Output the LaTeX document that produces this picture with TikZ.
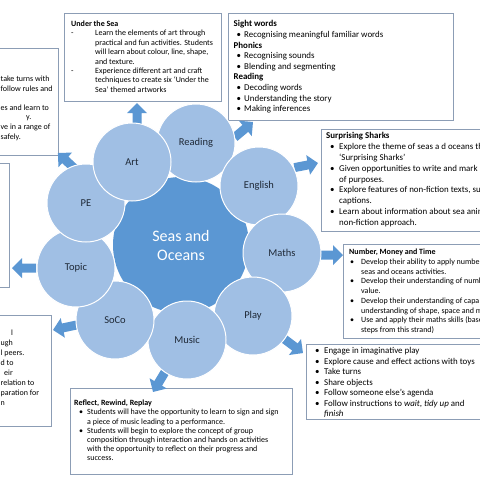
\documentclass[tikz,border=0pt]{standalone}
\usepackage{fontspec}
\setmainfont{Carlito}
\definecolor{ringfill}{HTML}{A0BFE4}
\definecolor{hubfill}{HTML}{5B97D3}
\definecolor{arrowfill}{HTML}{5B97D3}
\definecolor{boxline}{HTML}{8C9DB5}
\definecolor{ringtext}{HTML}{1F2937}
\newcommand\bul[2]{\makebox[#2][l]{\hspace*{#1}•}}
\newcommand\lines[1]{\begin{tabular}{@{}l@{}}#1\end{tabular}}
\tikzset{
  infobox/.style={draw=boxline, line width=0.8pt, fill=white, anchor=north west, inner sep=0pt, outer sep=0pt},
  boxtext/.style={anchor=north west, inner sep=0pt, text=black},
  fragtext/.style={anchor=base west, inner sep=0pt, text=black},
  ring/.style={circle, fill=ringfill, draw=white, line width=1pt, minimum size=78pt, inner sep=0pt, text=ringtext, font=\fontsize{10.5}{12}\selectfont},
  hub/.style={circle, fill=hubfill, minimum size=136pt, inner sep=0pt, text=white, align=center, font=\fontsize{16}{19}\selectfont},
  blockarrow/.pic={\fill[arrowfill] (0,-4.5) -- (14,-4.5) -- (14,-10) -- (24,0) -- (14,10) -- (14,4.5) -- (0,4.5) -- cycle;}
}
\begin{document}
\begin{tikzpicture}[x=1pt,y=1pt]
\useasboundingbox (0,0) rectangle (480,-480);
\clip (0,0) rectangle (480,-480);
\fill[white] (0,0) rectangle (480,-480);

% boxes
\node[infobox, minimum width=63.5pt, minimum height=107pt] (boxPE) at (-5,-48) {};
\node[infobox, minimum width=14pt, minimum height=124pt] (boxTopic) at (-5,-163) {};
\node[infobox, minimum width=56pt, minimum height=111pt] (boxSoCo) at (-5,-315) {};
\node[infobox, minimum width=157pt, minimum height=88pt] (boxArt) at (64,-13) {};
\node[infobox, minimum width=225pt, minimum height=107pt] (boxReading) at (228,-13) {};
\node[infobox, minimum width=170pt, minimum height=102pt] (boxEnglish) at (321,-129) {};
\node[infobox, minimum width=150pt, minimum height=94pt] (boxMaths) at (343,-244) {};
\node[infobox, minimum width=185pt, minimum height=75pt] (boxPlay) at (306,-344) {};
\node[infobox, minimum width=222pt, minimum height=86pt] (boxMusic) at (70,-388) {};

% box texts
\node[boxtext, font=\fontsize{8}{9.6}\selectfont] (tPE) at (0.5,-74.7) {\lines{take turns with\\follow rules and\\\mbox{}\\es and learn to\\\mbox{}\\ve in a range of\\safely.}};
\node[fragtext, font=\fontsize{8}{9.6}\selectfont] (tPEy) at (26,-119.8) {y.};
\node[boxtext, font=\fontsize{8}{10}\selectfont] (tSoCo) at (0.5,-328.4) {\lines{\mbox{}\\ugh\\l peers.\\d to\\\mbox{}\\relation to\\paration for\\n}};
\node[fragtext, font=\fontsize{8}{10}\selectfont] (tSoCoA) at (11,-335.4) {l};
\node[fragtext, font=\fontsize{8}{10}\selectfont] (tSoCoB) at (4,-375.4) {eir};

\node[boxtext, font=\fontsize{8}{9.4}\selectfont] (tArt) at (71,-19.8) {\lines{\textbf{Under the Sea}\\
\makebox[24pt][l]{-}Learn the elements of art through\\
\hspace*{24pt}practical and fun activities. Students\\
\hspace*{24pt}will learn about colour, line, shape,\\
\hspace*{24pt}and texture.\\
\makebox[24pt][l]{-}Experience different art and craft\\
\hspace*{24pt}techniques to create six ‘Under the\\
\hspace*{24pt}Sea’ themed artworks}};
\node[boxtext, font=\fontsize{8.9}{10.6}\selectfont] (tReading) at (233.5,-19.3) {\lines{\textbf{Sight words}\\
\bul{3pt}{10.5pt}Recognising meaningful familiar words\\
\textbf{Phonics}\\
\bul{3pt}{10.5pt}Recognising sounds\\
\bul{3pt}{10.5pt}Blending and segmenting\\
\textbf{Reading}\\
\bul{3pt}{10.5pt}Decoding words\\
\bul{3pt}{10.5pt}Understanding the story\\
\bul{3pt}{10.5pt}Making inferences}};
\node[boxtext, font=\fontsize{8.9}{10.8}\selectfont] (tEnglish) at (326,-131.1) {\lines{\textbf{Surprising Sharks}\\
\bul{4pt}{13pt}Explore the theme of seas a d oceans th\\
\hspace*{13pt}‘Surprising Sharks’\\
\bul{4pt}{13pt}Given opportunities to write and mark m\\
\hspace*{13pt}of purposes.\\
\bul{4pt}{13pt}Explore features of non-fiction texts, su\\
\hspace*{13pt}captions.\\
\bul{4pt}{13pt}Learn about information about sea anim\\
\hspace*{13pt}non-fiction approach.}};
\node[boxtext, font=\fontsize{8}{9.75}\selectfont] (tMaths) at (349,-247.6) {\lines{\textbf{Number, Money and Time}\\
\bul{1pt}{12pt}Develop their ability to apply numbe\\
\hspace*{12pt}seas and oceans activities.\\
\bul{1pt}{12pt}Develop their understanding of numb\\
\hspace*{12pt}value.\\
\bul{1pt}{12pt}Develop their understanding of capa\\
\hspace*{12pt}understanding of shape, space and m\\
\bul{1pt}{12pt}Use and apply their maths skills (base\\
\hspace*{12pt}steps from this strand)}};
\node[boxtext, font=\fontsize{8.9}{10.5}\selectfont] (tPlay) at (315,-346.3) {\lines{\bul{0pt}{9pt}Engage in imaginative play\\
\bul{0pt}{9pt}Explore cause and effect actions with toys\\
\bul{0pt}{9pt}Take turns\\
\bul{0pt}{9pt}Share objects\\
\bul{0pt}{9pt}Follow someone else’s agenda\\
\bul{0pt}{9pt}Follow instructions to \textit{wait}, \textit{tidy up} and\\
\hspace*{9pt}\textit{finish}}};
\node[boxtext, font=\fontsize{8}{9.2}\selectfont] (tMusic) at (74,-399) {\lines{\textbf{Reflect, Rewind, Replay}\\
\bul{5pt}{13pt}Students will have the opportunity to learn to sign and sign\\
\hspace*{13pt}a piece of music leading to a performance.\\
\bul{5pt}{13pt}Students will begin to explore the concept of group\\
\hspace*{13pt}composition through interaction and hands on activities\\
\hspace*{13pt}with the opportunity to reflect on their progress and\\
\hspace*{13pt}success.}};

% block arrows
\pic[rotate=90] at (137,-127) {blockarrow};
\pic[rotate=40] at (234.6,-137.4) {blockarrow};
\pic[rotate=11] at (294.4,-167.6) {blockarrow};
\pic[rotate=0] at (319,-255) {blockarrow};
\pic[rotate=-37] at (283.8,-338.6) {blockarrow};
\pic[rotate=239] at (165.4,-371.4) {blockarrow};
\pic[rotate=192] at (76.5,-325) {blockarrow};
\pic[rotate=180] at (36,-268) {blockarrow};
\pic[rotate=137] at (75.5,-169.4) {blockarrow};

% hub
\node[hub] (hub) at (181,-245) {Seas and\\Oceans};

% ring circles
\node[ring] (cReading) at (196,-143) {Reading};
\node[ring] (cEnglish) at (259,-186) {English};
\node[ring] (cMaths) at (282,-253) {Maths};
\node[ring] (cPlay) at (253,-316) {Play};
\node[ring] (cMusic) at (187,-340) {Music};
\node[ring] (cSoCo) at (115,-320) {SoCo};
\node[ring] (cTopic) at (76,-268) {Topic};
\node[ring] (cPE) at (86,-203) {PE};
\node[ring] (cArt) at (132,-162) {Art};
\end{tikzpicture}
\end{document}
